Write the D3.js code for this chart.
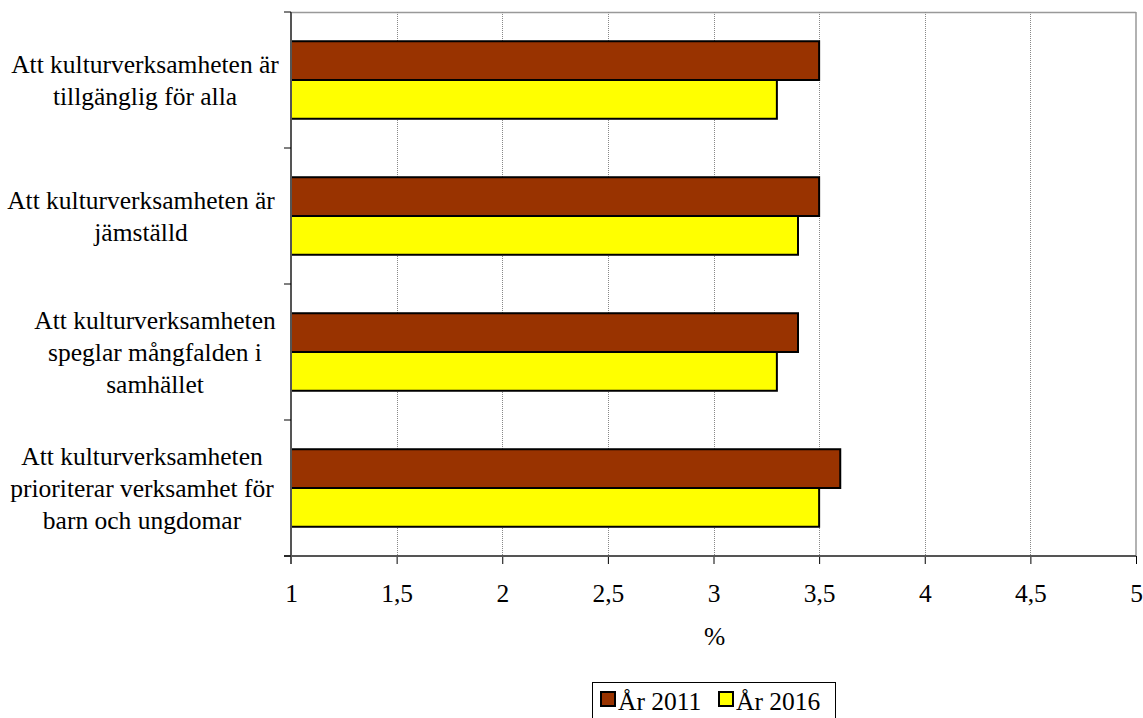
<!DOCTYPE html>
<html><head><meta charset="utf-8">
<script src="https://cdn.jsdelivr.net/npm/d3@7"></script>
<style>body{margin:0;background:#fff;} text{font-family:"Liberation Serif","Times New Roman",serif;fill:#000;}</style>
</head><body><svg id="c" width="1143" height="718"></svg>
<script>
const categories = [
  ["Att kulturverksamheten är", "tillgänglig för alla"],
  ["Att kulturverksamheten är", "jämställd"],
  ["Att kulturverksamheten", "speglar mångfalden i", "samhället"],
  ["Att kulturverksamheten", "prioriterar verksamhet för", "barn och ungdomar"]
];
const seriesNames = ["År 2011", "År 2016"];
const values2011 = [3.5, 3.5, 3.4, 3.6];
const values2016 = [3.3, 3.4, 3.3, 3.5];
const xTicks = [1, 1.5, 2, 2.5, 3, 3.5, 4, 4.5, 5];
const colors = ["#993300", "#ffff00"];
const axisTitle = "%";

const labelCenters = [145, 141, 155, 142];
const FS = 25.5;

const svg = d3.select("#c");
const L = 291, R = 1136, T = 12, B = 556;
const x = d3.scaleLinear().domain([1, 5]).range([L, R]);
const y = d3.scaleBand().domain(d3.range(categories.length)).range([T, B]).paddingInner(0.43).paddingOuter(0.215);
const sub = d3.scaleBand().domain([0, 1]).range([0, y.bandwidth()]);

// border top/right
svg.append("line").attr("x1", L).attr("x2", R).attr("y1", T + 0.5).attr("y2", T + 0.5).attr("stroke", "#999").attr("stroke-width", 1.5);
svg.append("line").attr("x1", R).attr("x2", R).attr("y1", T).attr("y2", B).attr("stroke", "#999").attr("stroke-width", 1.5);
// gridlines
svg.selectAll(".grid").data(xTicks.slice(1, -1)).enter().append("line")
  .attr("x1", d => Math.round(x(d)) + 0.5).attr("x2", d => Math.round(x(d)) + 0.5)
  .attr("y1", T).attr("y2", B).attr("stroke", "#888").attr("stroke-dasharray", "1,1");

// bars
const data = [];
categories.forEach((c, i) => {
  data.push({i, s: 0, v: values2011[i]});
  data.push({i, s: 1, v: values2016[i]});
});
svg.selectAll(".bar").data(data).enter().append("rect")
  .attr("x", x(1)).attr("y", d => y(d.i) + sub(d.s))
  .attr("width", d => x(d.v) - x(1)).attr("height", sub.bandwidth())
  .attr("fill", d => colors[d.s]).attr("stroke", "#000").attr("stroke-width", 2);

// x axis
const xa = svg.append("g").attr("transform", `translate(0,${B})`)
  .call(d3.axisBottom(x).tickValues(xTicks).tickSize(8).tickFormat(d => String(d).replace(".", ",")));
xa.select(".domain").remove();
xa.selectAll("line").attr("stroke", "#000");
xa.selectAll("text").attr("font-size", FS).attr("font-family", "Liberation Serif").attr("dy", null).attr("y", 46);
svg.append("line").attr("x1", L - 7).attr("x2", R).attr("y1", B).attr("y2", B).attr("stroke", "#555").attr("stroke-width", 2);

// y axis line & ticks at band boundaries
svg.append("line").attr("x1", L).attr("x2", L).attr("y1", T).attr("y2", B + 8).attr("stroke", "#555").attr("stroke-width", 2);
const step = (B - T) / categories.length;
svg.selectAll(".yt").data(d3.range(categories.length + 1)).enter().append("line")
  .attr("x1", L - 7).attr("x2", L).attr("y1", d => T + d * step).attr("y2", d => T + d * step).attr("stroke", "#000");

// category labels
categories.forEach((lines, i) => {
  const cy = T + (i + 0.5) * step;
  const lh = 32;
  const t = svg.append("text").attr("text-anchor", "middle").attr("font-size", FS);
  lines.forEach((ln, k) => {
    t.append("tspan").attr("x", labelCenters[i]).attr("y", cy + (k - (lines.length - 1) / 2) * lh + 8.5).text(ln);
  });
});

// axis title
svg.append("text").attr("x", (L + R) / 2 + 1).attr("y", 645).attr("text-anchor", "middle").attr("font-size", FS).text(axisTitle);

// legend
const lg = svg.append("g");
lg.append("rect").attr("x", 592.5).attr("y", 682.5).attr("width", 243).attr("height", 40).attr("fill", "#fff").attr("stroke", "#000");
const lx = [601, 719];
seriesNames.forEach((n, i) => {
  lg.append("rect").attr("x", lx[i]).attr("y", 692).attr("width", 14).attr("height", 14).attr("fill", colors[i]).attr("stroke", "#000").attr("stroke-width", 2);
  lg.append("text").attr("x", lx[i] + 17).attr("y", 710).attr("font-size", FS).text(n);
});
</script></body></html>
